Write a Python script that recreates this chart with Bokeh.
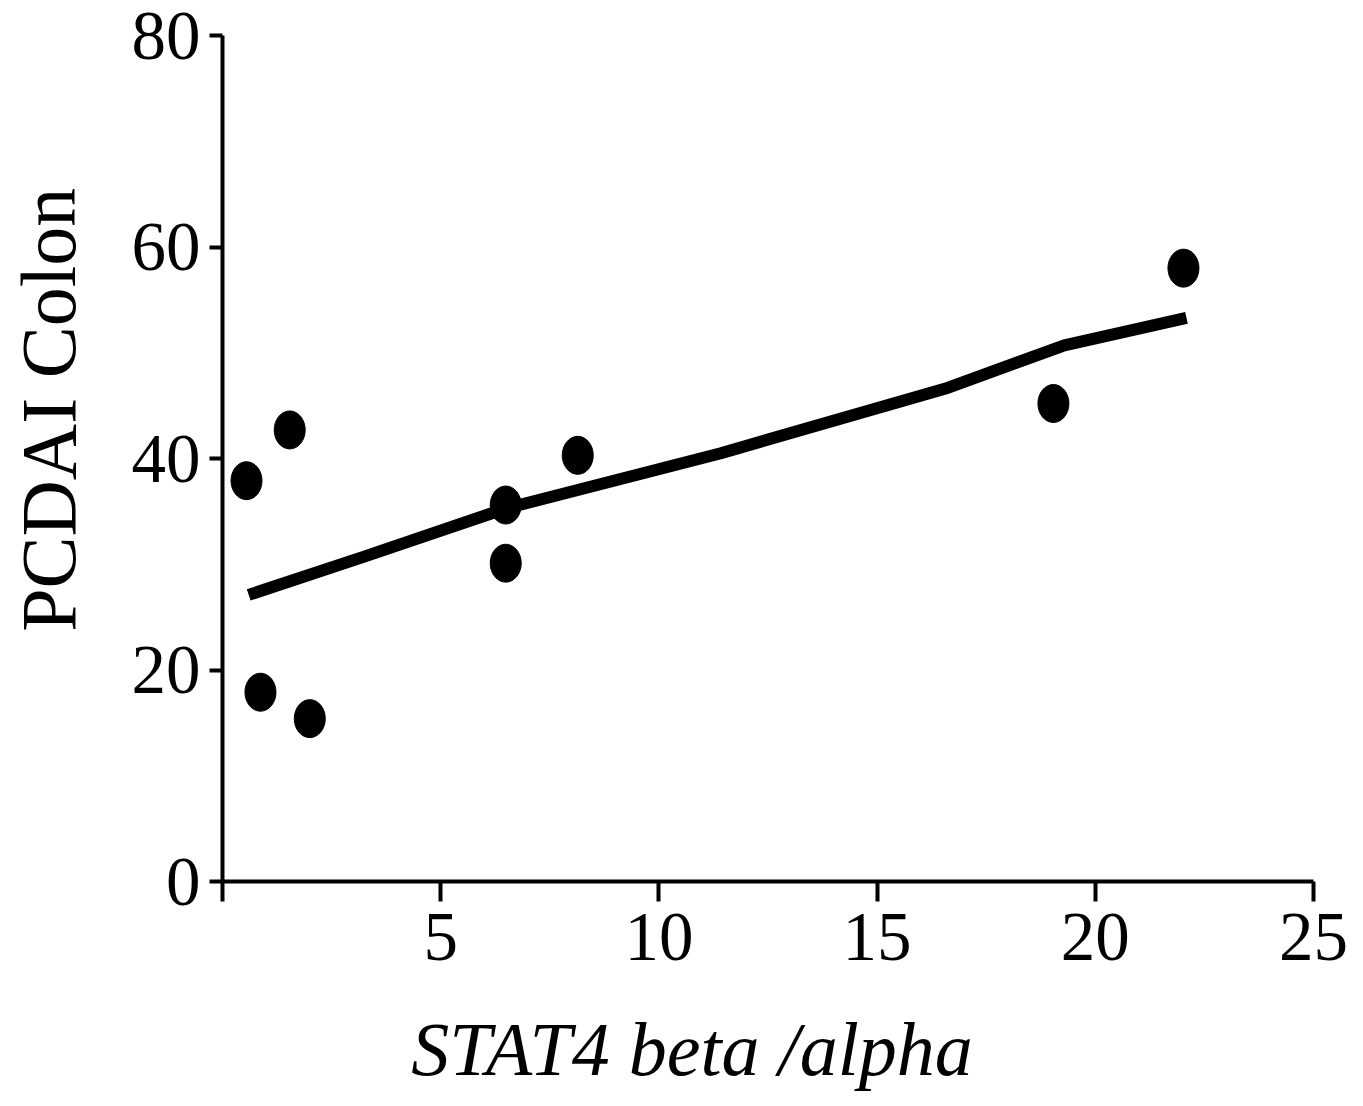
from bokeh.plotting import figure
from bokeh.models import Range1d, FixedTicker
from bokeh.embed import file_html
from bokeh.resources import INLINE

# ---- data ----
stat4_ratio = [0.55, 1.54, 0.87, 2.0, 6.49, 6.49, 8.14, 19.04, 22.02]
pcdai_colon = [37.9, 42.7, 17.9, 15.4, 35.6, 30.1, 40.3, 45.2, 58.0]

fit_x = [0.60, 3.23, 6.51, 11.42, 16.63, 19.29, 22.09]
fit_y = [27.1, 30.7, 35.3, 40.5, 46.7, 50.7, 53.3]

x_ticks = [0, 5, 10, 15, 20, 25]
y_ticks = [0, 20, 40, 60, 80]
x_title = "STAT4 beta /alpha"
y_title = "PCDAI Colon"

FONT = "Liberation Serif"
NB = "\u00a0"  # non-breaking spaces shift the centred titles along their axes

W, H = 1355, 1098
p = figure(width=W, height=H, output_backend="svg", toolbar_location=None,
           x_range=Range1d(0, 25), y_range=Range1d(0, 80),
           min_border_left=222, min_border_right=W - 1313,
           min_border_top=35, min_border_bottom=H - 881)
p.outline_line_color = None
p.grid.visible = False
p.background_fill_color = "white"
p.border_fill_color = "white"

# regression line
p.line(fit_x, fit_y, line_color="black", line_width=12)

# points
p.ellipse(stat4_ratio, pcdai_colon, width=31, height=38,
          width_units="screen", height_units="screen",
          fill_color="black", line_color="black")

for ax in (p.xaxis[0], p.yaxis[0]):
    ax.axis_line_width = 4
    ax.axis_line_color = "black"
    ax.major_tick_line_width = 4
    ax.major_tick_line_color = "black"
    ax.minor_tick_line_color = None
    ax.major_tick_in = 0
    ax.major_label_text_font = FONT
    ax.major_label_text_font_size = "69px"
    ax.major_label_text_color = "black"
    ax.axis_label_text_font = FONT
    ax.axis_label_text_color = "black"

p.xaxis[0].ticker = FixedTicker(ticks=x_ticks)
p.xaxis[0].major_tick_out = 20
p.xaxis[0].major_label_standoff = 12
p.xaxis[0].major_label_overrides = {0: ""}
p.xaxis[0].axis_label = x_title + NB * 8
p.xaxis[0].axis_label_text_font_size = "76px"
p.xaxis[0].axis_label_text_font_style = "italic"
p.xaxis[0].axis_label_standoff = 44

p.yaxis[0].ticker = FixedTicker(ticks=y_ticks)
p.yaxis[0].major_tick_out = 13
p.yaxis[0].major_label_standoff = 9
p.yaxis[0].axis_label = NB * 5 + y_title
p.yaxis[0].axis_label_text_font_size = "78px"
p.yaxis[0].axis_label_text_font_style = "normal"
p.yaxis[0].axis_label_standoff = 37

open("out.html", "w").write(file_html(p, INLINE))
